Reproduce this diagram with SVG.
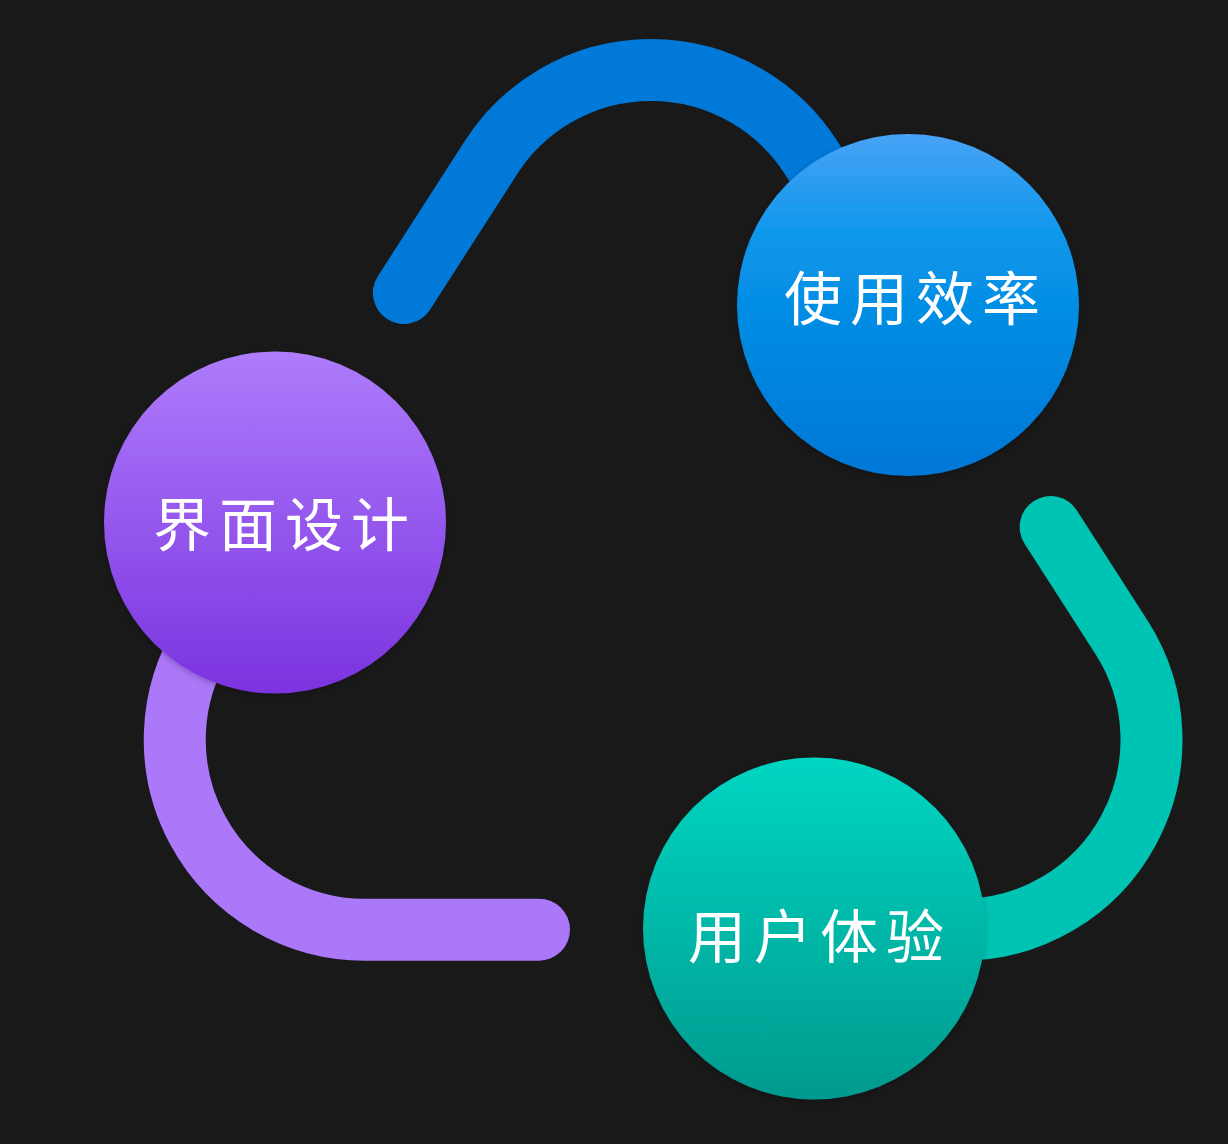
<svg xmlns="http://www.w3.org/2000/svg" width="1228" height="1144" viewBox="0 0 1228 1144">
  <defs>
    <linearGradient id="gBlue" x1="0" y1="0" x2="0" y2="1">
      <stop offset="0" stop-color="#48a3f6"/>
      <stop offset="0.32" stop-color="#0896ea"/>
      <stop offset="1" stop-color="#0077d6"/>
    </linearGradient>
    <linearGradient id="gPurple" x1="0" y1="0" x2="0" y2="1">
      <stop offset="0" stop-color="#ae7cfc"/>
      <stop offset="1" stop-color="#7b33df"/>
    </linearGradient>
    <linearGradient id="gGreen" x1="0" y1="0" x2="0" y2="1">
      <stop offset="0" stop-color="#00d6c2"/>
      <stop offset="1" stop-color="#009a8e"/>
    </linearGradient>
    <filter id="shadow" x="-20%" y="-20%" width="140%" height="140%">
      <feDropShadow dx="0" dy="2" stdDeviation="3" flood-color="#000" flood-opacity="0.25"/>
    </filter>
  </defs>
  <style>
    .arc { fill: none; stroke-width: 62; stroke-linecap: round; stroke-linejoin: round; }
    .node circle { filter: url(#shadow); }
    .label { fill: #ffffff; font-family: "Noto Sans CJK SC", "Noto Sans CJK JP", sans-serif; font-size: 58px; letter-spacing: 8px; text-anchor: middle; dominant-baseline: central; }
  </style>
  <rect x="0" y="0" width="1228" height="1144" fill="#191919"/>
  <g id="connectors">
    <path class="arc" stroke="#0079d9" d="M 403.9 293 L 491.15 157.3 A 190 190 0 0 1 810.85 157.3 L 906 305"/>
    <path class="arc" stroke="#00c4b3" d="M 1050.65 527 L 1121.35 637 A 190 190 0 0 1 961.5 929.7 L 814 929.7"/>
    <path class="arc" stroke="#ab78fa" d="M 278.8 522 L 204.9 637 A 190 190 0 0 0 364.7 929.7 L 539 929.7"/>
  </g>
  <g id="node-efficiency" class="node">
    <circle cx="908" cy="305" r="171" fill="url(#gBlue)"/>
    <text class="label" x="916" y="295">使用效率</text>
  </g>
  <g id="node-ui-design" class="node">
    <circle cx="275" cy="522.5" r="171" fill="url(#gPurple)"/>
    <text class="label" x="285" y="521">界面设计</text>
  </g>
  <g id="node-ux" class="node">
    <circle cx="814" cy="928.5" r="171" fill="url(#gGreen)"/>
    <text class="label" x="820" y="933">用户体验</text>
  </g>
</svg>
